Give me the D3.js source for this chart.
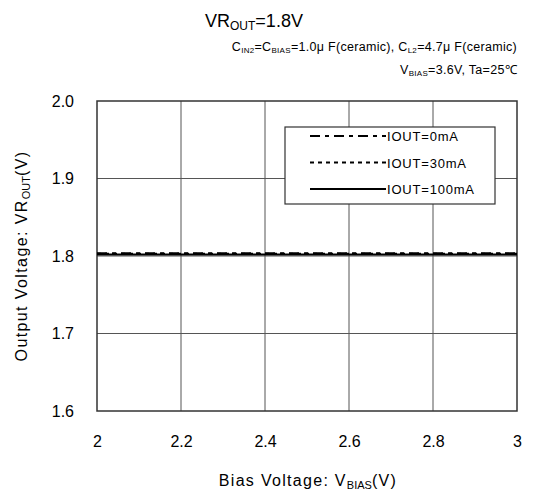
<!DOCTYPE html>
<html>
<head>
<meta charset="utf-8">
<script src="https://cdn.jsdelivr.net/npm/d3@7"></script>
<style>
  body { margin: 0; background: #fff; }
  svg { font-family: "Liberation Sans", Arial, sans-serif; }
</style>
</head>
<body>
<svg id="chart"></svg>
<script>
// data
const biasVoltage = [2.0, 2.2, 2.4, 2.6, 2.8, 3.0];
const vout0mA   = [1.8035, 1.8035, 1.8035, 1.8035, 1.8035, 1.8035];
const vout30mA  = [1.8030, 1.8030, 1.8030, 1.8030, 1.8030, 1.8030];
const vout100mA = [1.8020, 1.8020, 1.8020, 1.8020, 1.8020, 1.8020];
const seriesNames = ["IOUT=0mA", "IOUT=30mA", "IOUT=100mA"];
const xTicks = [2, 2.2, 2.4, 2.6, 2.8, 3];
const yTicks = [1.6, 1.7, 1.8, 1.9, 2.0];

const width = 540, height = 493;
const margins = {left: 97, right: 23, top: 101, bottom: 82};

const svg = d3.select("#chart").attr("width", width).attr("height", height);

const xScale = d3.scaleLinear().domain([2, 3]).range([margins.left, width - margins.right]);
const yScale = d3.scaleLinear().domain([1.6, 2.0]).range([height - margins.bottom, margins.top]);

// grid
svg.append("g").selectAll("line")
   .data(xTicks.slice(1, -1))
   .enter().append("line")
   .attr("x1", d => xScale(d)).attr("x2", d => xScale(d))
   .attr("y1", yScale(1.6)).attr("y2", yScale(2.0))
   .attr("stroke", "#555").attr("stroke-width", 1);

svg.append("g").selectAll("line")
   .data(yTicks.slice(1, -1))
   .enter().append("line")
   .attr("x1", xScale(2)).attr("x2", xScale(3))
   .attr("y1", d => yScale(d)).attr("y2", d => yScale(d))
   .attr("stroke", "#555").attr("stroke-width", 1);

// frame
svg.append("rect")
   .attr("x", xScale(2)).attr("y", yScale(2.0))
   .attr("width", xScale(3) - xScale(2))
   .attr("height", yScale(1.6) - yScale(2.0))
   .attr("fill", "none").attr("stroke", "#333").attr("stroke-width", 1.5);

// axes labels (ticks hidden, only text)
const xAxis = d3.axisBottom(xScale).tickValues(xTicks).tickSize(0).tickPadding(25)
                .tickFormat(d => d3.format("")(d));
const gx = svg.append("g")
   .attr("transform", "translate(0," + yScale(1.6) + ")")
   .call(xAxis);
gx.select(".domain").remove();
gx.selectAll("text").attr("font-size", 16).attr("fill", "#000")
  .attr("font-family", "Liberation Sans, Arial, sans-serif");

const yAxis = d3.axisLeft(yScale).tickValues(yTicks).tickSize(0).tickPadding(23)
                .tickFormat(d3.format(".1f"));
const gy = svg.append("g")
   .attr("transform", "translate(" + xScale(2) + ",0)")
   .call(yAxis);
gy.select(".domain").remove();
gy.selectAll("text").attr("font-size", 16).attr("fill", "#000")
  .attr("font-family", "Liberation Sans, Arial, sans-serif");

// series
const styles = [
  {data: vout0mA, dash: "10,5,4,5", width: 2},
  {data: vout30mA, dash: "4,4", width: 2},
  {data: vout100mA, dash: null, width: 2}
];
const line = d3.line().x((d, i) => xScale(biasVoltage[i])).y(d => yScale(d));
styles.forEach(s => {
  svg.append("path")
     .attr("d", line(s.data))
     .attr("fill", "none")
     .attr("stroke", "#000")
     .attr("stroke-width", s.width)
     .attr("stroke-dasharray", s.dash);
});

// legend
const legend = svg.append("g").attr("transform", "translate(285,127)");
legend.append("rect")
   .attr("width", 210).attr("height", 77)
   .attr("fill", "#fff").attr("stroke", "#333").attr("stroke-width", 1.2);
const legendRows = legend.selectAll("g.row")
   .data(seriesNames).enter().append("g")
   .attr("class", "row")
   .attr("transform", (d, i) => "translate(0," + (9 + i * 26.5) + ")");
legendRows.append("line")
   .attr("x1", 25).attr("x2", 101)
   .attr("stroke", "#000").attr("stroke-width", 2)
   .attr("stroke-dasharray", (d, i) => styles[i].dash);
legendRows.append("text")
   .attr("x", 102).attr("y", 5)
   .attr("font-size", 13).attr("letter-spacing", 0.8)
   .text(d => d);

// titles
const title = svg.append("text").attr("x", 205).attr("y", 27).attr("font-size", 18);
title.append("tspan").text("VR");
title.append("tspan").attr("font-size", 12).attr("dy", 3).text("OUT");
title.append("tspan").attr("dy", -3).text("=1.8V");

const sub1 = svg.append("text").attr("x", 517).attr("y", 51)
   .attr("text-anchor", "end").attr("font-size", 12.5).attr("letter-spacing", 0.3);
sub1.append("tspan").text("C");
sub1.append("tspan").attr("font-size", 8).attr("dy", 2).text("IN2");
sub1.append("tspan").attr("dy", -2).text("=C");
sub1.append("tspan").attr("font-size", 8).attr("dy", 2).text("BIAS");
sub1.append("tspan").attr("dy", -2).text("=1.0\u03bc F(ceramic), C");
sub1.append("tspan").attr("font-size", 8).attr("dy", 2).text("L2");
sub1.append("tspan").attr("dy", -2).text("=4.7\u03bc F(ceramic)");

const sub2 = svg.append("text").attr("x", 517).attr("y", 74)
   .attr("text-anchor", "end").attr("font-size", 12.5).attr("letter-spacing", 0.3);
sub2.append("tspan").text("V");
sub2.append("tspan").attr("font-size", 8).attr("dy", 2).text("BIAS");
sub2.append("tspan").attr("dy", -2).text("=3.6V, Ta=25\u2103");

const xTitle = svg.append("text").attr("x", 308).attr("y", 486)
   .attr("text-anchor", "middle").attr("font-size", 16).attr("letter-spacing", 1.3);
xTitle.append("tspan").text("Bias Voltage: V");
xTitle.append("tspan").attr("font-size", 11).attr("dy", 3).attr("letter-spacing", 0).text("BIAS");
xTitle.append("tspan").attr("dy", -3).text("(V)");

const yTitle = svg.append("text")
   .attr("transform", "translate(27,256) rotate(-90)")
   .attr("text-anchor", "middle").attr("font-size", 16).attr("letter-spacing", 1.4);
yTitle.append("tspan").text("Output Voltage: VR");
yTitle.append("tspan").attr("font-size", 11).attr("dy", 3).attr("letter-spacing", 0).text("OUT");
yTitle.append("tspan").attr("dy", -3).text("(V)");
</script>
</body>
</html>
